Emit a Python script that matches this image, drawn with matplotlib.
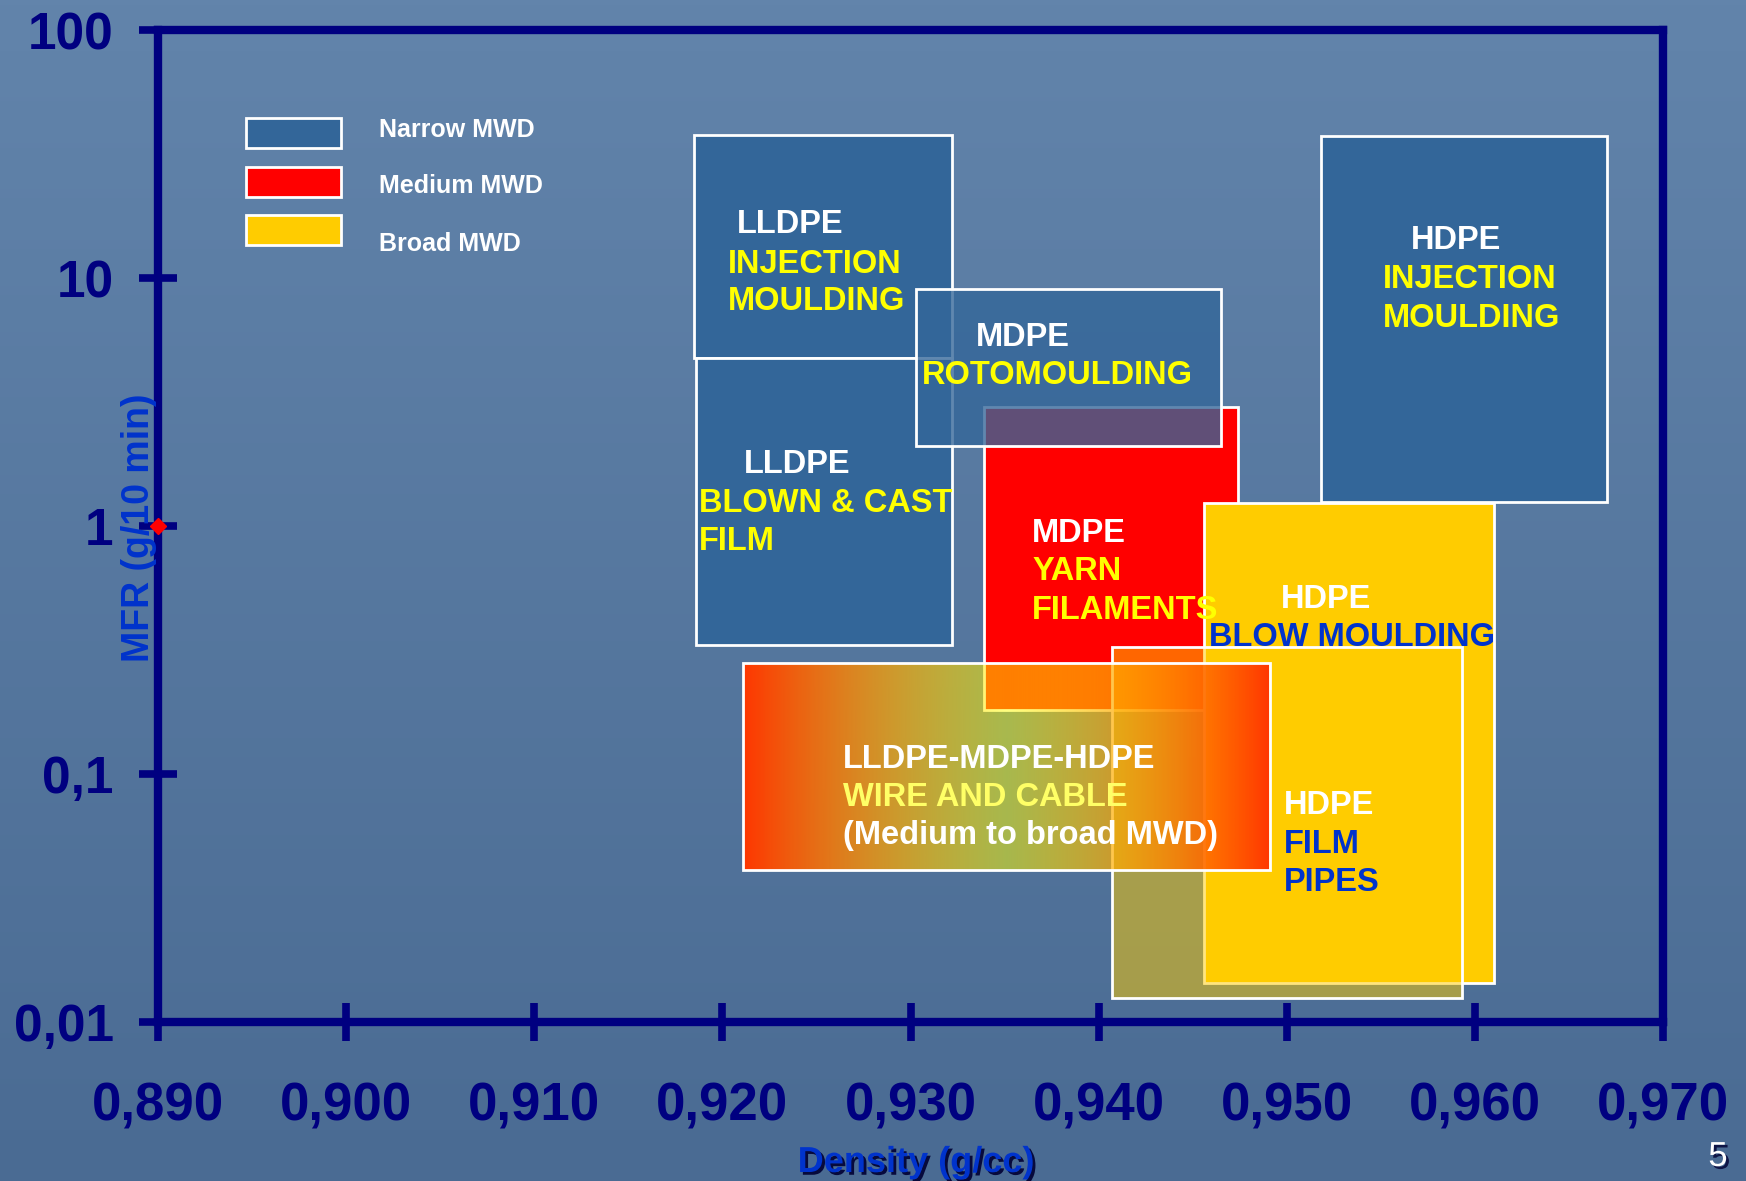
import numpy as np
import matplotlib
matplotlib.use('Agg')
import matplotlib.pyplot as plt
import matplotlib.patheffects as pe
from matplotlib.colors import to_rgba
from matplotlib.patches import Rectangle
from matplotlib.ticker import NullLocator

plt.rcParams['font.family'] = ['Liberation Sans', 'DejaVu Sans']
plt.rcParams['font.weight'] = 'bold'

NAVY = '#000080'
MWD_COLORS = {'narrow': '#336699', 'medium': '#ff0000', 'broad': '#ffcc00'}

# processing windows: density range (g/cc) and MFR range (g/10 min)
apps = ['LLDPE injection', 'LLDPE film', 'MDPE yarn', 'MDPE roto',
        'HDPE injection', 'HDPE blow', 'HDPE film/pipe', 'wire & cable']
dens_lo = [0.9185, 0.9186, 0.9339, 0.9303, 0.9518, 0.9456, 0.9407, 0.9211]
dens_hi = [0.9322, 0.9322, 0.9474, 0.9465, 0.9670, 0.9610, 0.9593, 0.9491]
mfr_lo = [4.76, 0.331, 0.181, 2.10, 1.25, 0.0144, 0.0125, 0.041]
mfr_hi = [37.7, 4.76, 3.02, 9.03, 37.4, 1.24, 0.325, 0.280]
mwd = ['narrow', 'narrow', 'medium', 'narrow', 'narrow', 'broad', 'broad', 'medium-broad']
fill_alpha = [1, 1, 1, 0.78, 1, 1, 0.5, 1]

x_ticks = [0.890, 0.900, 0.910, 0.920, 0.930, 0.940, 0.950, 0.960, 0.970]
x_labels = ['0,890', '0,900', '0,910', '0,920', '0,930', '0,940', '0,950', '0,960', '0,970']
y_ticks = [0.01, 0.1, 1, 10, 100]
y_labels = ['0,01', '0,1', '1', '10', '100']

legend_names = ['Narrow MWD', 'Medium MWD', 'Broad MWD']

# box captions: (density, mfr baseline, text, colour)
WHITE, YEL, BLUE = 'white', '#ffff00', '#0033cc'
captions = [
    (0.92078, 15.19, 'LLDPE', WHITE),
    (0.92030, 10.47, 'INJECTION', YEL),
    (0.92030, 7.43, 'MOULDING', YEL),
    (0.92115, 1.636, 'LLDPE', WHITE),
    (0.91876, 1.139, 'BLOWN & CAST', YEL),
    (0.91876, 0.800, 'FILM', YEL),
    (0.93348, 5.318, 'MDPE', WHITE),
    (0.93061, 3.737, 'ROTOMOULDING', YEL),
    (0.93646, 0.862, 'MDPE', WHITE),
    (0.93646, 0.606, 'YARN', YEL),
    (0.93646, 0.4217, 'FILAMENTS', YEL),
    (0.95660, 13.09, 'HDPE', WHITE),
    (0.95512, 9.114, 'INJECTION', YEL),
    (0.95512, 6.345, 'MOULDING', YEL),
    (0.94969, 0.467, 'HDPE', WHITE),
    (0.94587, 0.328, 'BLOW MOULDING', BLUE),
    (0.94985, 0.069, 'HDPE', WHITE),
    (0.94985, 0.048, 'FILM', BLUE),
    (0.94985, 0.0338, 'PIPES', BLUE),
    (0.92641, 0.1057, 'LLDPE-MDPE-HDPE', WHITE),
    (0.92641, 0.0743, 'WIRE AND CABLE', '#ffff66'),
    (0.92641, 0.0522, '(Medium to broad MWD)', WHITE),
]

fig = plt.figure(figsize=(17.46, 11.81), dpi=100)

# slide background
bg = fig.add_axes([0, 0, 1, 1], zorder=-10)
shade = np.linspace(0, 1, 256)[:, None, None]
top_c = np.array([98, 132, 171]) / 255
bot_c = np.array([74, 107, 147]) / 255
bg.imshow(top_c + (bot_c - top_c) * shade, aspect='auto', extent=[0, 1, 0, 1])
bg.set_axis_off()

ax = fig.add_axes([158 / 1746, 1 - 1022 / 1181, 1505 / 1746, 992 / 1181])
ax.set_facecolor('none')
ax.set_yscale('log')

z = 2
for i in range(len(apps)):
    x0, x1, y0, y1 = dens_lo[i], dens_hi[i], mfr_lo[i], mfr_hi[i]
    if mwd[i] == 'medium-broad':
        # red-orange at the edges fading to half-transparent yellow in the middle
        u = np.linspace(0, 1, 400)
        t = 1 - np.abs(2 * u - 1)
        grad = np.zeros((1, len(u), 4))
        grad[0, :, 0] = 1.0
        grad[0, :, 1] = (55 + 200 * t) / 255
        grad[0, :, 2] = 0.0
        grad[0, :, 3] = 1 - 0.5 * t
        ax.imshow(grad, extent=[x0, x1, y0, y1], aspect='auto',
                  interpolation='bilinear', zorder=z)
        ax.add_patch(Rectangle((x0, y0), x1 - x0, y1 - y0, facecolor='none',
                               edgecolor='white', lw=2, zorder=z + 0.5))
    else:
        ax.add_patch(Rectangle((x0, y0), x1 - x0, y1 - y0,
                               facecolor=to_rgba(MWD_COLORS[mwd[i]], fill_alpha[i]),
                               edgecolor='white', lw=2, zorder=z))
    z += 1

for x, y, s, c in captions:
    ax.text(x, y, s, color=c, fontsize=23.5, fontweight='bold',
            ha='left', va='baseline', zorder=20)

# legend swatches
sw_bottom = [0.8810, 0.8317, 0.7833]
lab_base = [0.8921, 0.8357, 0.7772]
for name, key, yb, yl in zip(legend_names, ['narrow', 'medium', 'broad'], sw_bottom, lab_base):
    ax.add_patch(Rectangle((0.0585, yb), 0.0631, 0.0302, transform=ax.transAxes,
                           facecolor=MWD_COLORS[key], edgecolor='white', lw=2, zorder=20))
    ax.text(0.1468, yl, name, transform=ax.transAxes, color='white',
            fontsize=18, fontweight='bold', va='baseline', zorder=20)

ax.plot([0.890], [1], marker='D', color='red', ms=8.5, clip_on=False, zorder=30)

ax.set_xlim(0.890, 0.970)
ax.set_ylim(0.01, 100)
ax.set_xticks(x_ticks)
ax.set_xticklabels(x_labels)
ax.set_yticks(y_ticks)
ax.set_yticklabels(y_labels)
ax.yaxis.set_minor_locator(NullLocator())
ax.xaxis.set_minor_locator(NullLocator())

for s in ax.spines.values():
    s.set_color(NAVY)
    s.set_linewidth(6)
    s.set_zorder(25)
ax.tick_params(axis='both', direction='inout', length=28, width=5.5,
               color=NAVY, labelcolor=NAVY)
ax.tick_params(axis='y', pad=18, labelsize=37)
ax.tick_params(axis='x', pad=29, labelsize=38)

fig.text(149 / 1746, 1 - 528 / 1181, 'MFR (g/10 min)', rotation=90,
         rotation_mode='anchor', ha='center', va='baseline',
         color='#0033cc', fontsize=27, fontweight='bold', zorder=40)
fig.text(916 / 1746, 1 - 1172 / 1181, 'Density (g/cc)', ha='center', va='baseline',
         color='#0033cc', fontsize=26, fontweight='bold',
         path_effects=[pe.withSimplePatchShadow(offset=(2, -2), shadow_rgbFace='#000033', alpha=0.9)])
fig.text(1718 / 1746, 1 - 1166 / 1181, '5', ha='center', va='baseline',
         color='white', fontsize=25, fontweight='normal',
         path_effects=[pe.withSimplePatchShadow(offset=(2, -2), shadow_rgbFace='#000033', alpha=0.8)])

fig.savefig('out.png', dpi=100, facecolor=fig.get_facecolor())
